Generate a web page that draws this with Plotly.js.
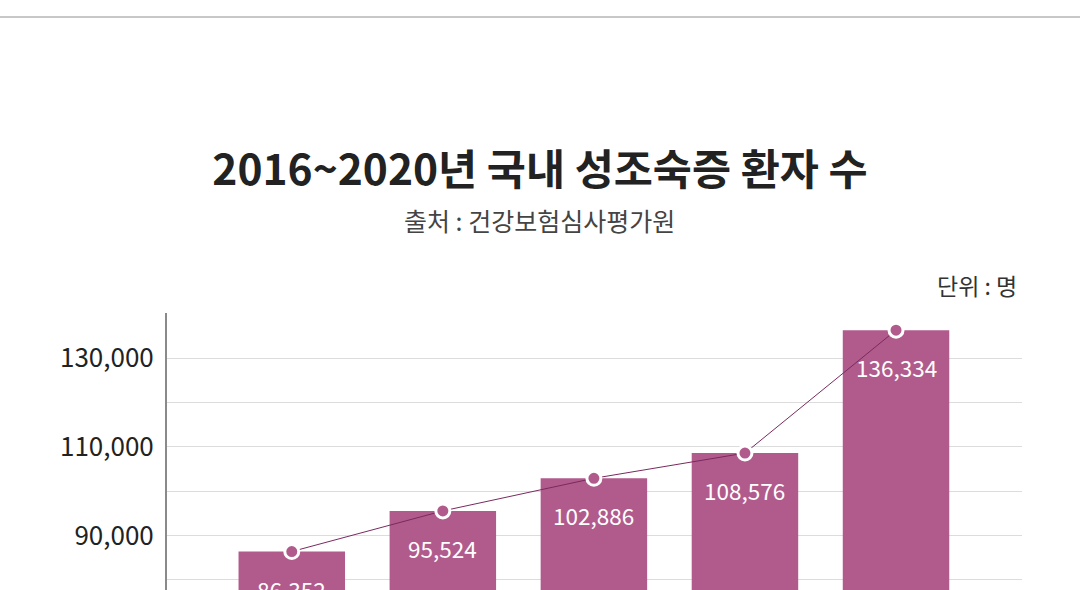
<!DOCTYPE html>
<html>
<head>
<meta charset="utf-8">
<script src="https://cdn.plot.ly/plotly-3.0.1.min.js"></script>
<style>
html,body{margin:0;padding:0;background:#fff;overflow:hidden;width:1080px;height:590px;}
#topline{position:absolute;left:0;top:16px;width:1080px;height:0;border-top:2px solid #c8c8c8;}
#chart{position:absolute;left:0;top:0;}
</style>
</head>
<body>
<div id="chart"></div>
<div id="topline"></div>
<script>
const categories = ["2016", "2017", "2018", "2019", "2020"];
const patients = [86352, 95524, 102886, 108576, 136334];
const labels = ["86,352", "95,524", "102,886", "108,576", "136,334"];
const tickVals = [90000, 110000, 130000];
const tickText = ["90,000", "110,000", "130,000"];

const FONT = '"Noto Sans CJK KR", "Noto Sans", sans-serif';
const BAR = '#b15b8d';

const bars = {
  type: 'bar', x: categories, y: patients,
  marker: {color: BAR}, hoverinfo: 'skip', showlegend: false
};
const line = {
  type: 'scatter', mode: 'lines+markers', x: categories, y: patients,
  line: {color: '#7a2a5e', width: 1},
  marker: {size: 14, color: BAR, line: {color: '#ffffff', width: 3}},
  hoverinfo: 'skip', showlegend: false, cliponaxis: false
};

const annotations = categories.map((c, i) => ({
  x: i, y: patients[i], xref: 'x', yref: 'y',
  text: labels[i], showarrow: false, yshift: -37,
  xanchor: 'center', yanchor: 'middle',
  font: {family: FONT, size: 22.5, color: '#ffffff'}
}));
annotations.push({
  xref: 'paper', yref: 'paper', x: 0.436, y: 1.3,
  text: '출처 : 건강보험심사평가원', showarrow: false,
  xanchor: 'center', yanchor: 'middle',
  font: {family: FONT, size: 25, color: '#444444'}
});
annotations.push({
  xref: 'paper', yref: 'paper', x: 0.997, y: 1.09,
  text: '단위 : 명', showarrow: false,
  xanchor: 'right', yanchor: 'middle',
  font: {family: FONT, size: 23, color: '#333333'}
});

const layout = {
  width: 1080, height: 700,
  margin: {l: 167, r: 58, t: 313, b: 76},
  paper_bgcolor: '#ffffff', plot_bgcolor: '#ffffff',
  bargap: 0.295,
  title: {
    text: '<b>2016~2020년 국내 성조숙증 환자 수</b>',
    x: 0.5, xref: 'container', xanchor: 'center',
    y: 1 - 170/700, yref: 'container', yanchor: 'middle',
    font: {family: FONT, size: 42.5, color: '#222222'}
  },
  xaxis: {
    type: 'category', range: [-0.826, 4.834],
    showgrid: false, zeroline: false, showline: false,
    showticklabels: false,
    tickfont: {family: FONT, size: 24, color: '#333'}
  },
  yaxis: {
    range: [70000, 140200],
    tickvals: tickVals, ticktext: tickText,
    showgrid: true, gridcolor: '#dcdcdc', gridwidth: 1,
    minor: {dtick: 10000, tick0: 0, showgrid: true, gridcolor: '#dcdcdc', gridwidth: 1},
    zeroline: false,
    showline: true, linecolor: '#8a8a8a', linewidth: 2,
    ticks: '', ticklabelstandoff: 6,
    tickfont: {family: FONT, size: 26, color: '#222222'}
  },
  annotations: annotations
};

Plotly.newPlot('chart', [bars, line], layout, {displayModeBar: false, staticPlot: true});
</script>
</body>
</html>
